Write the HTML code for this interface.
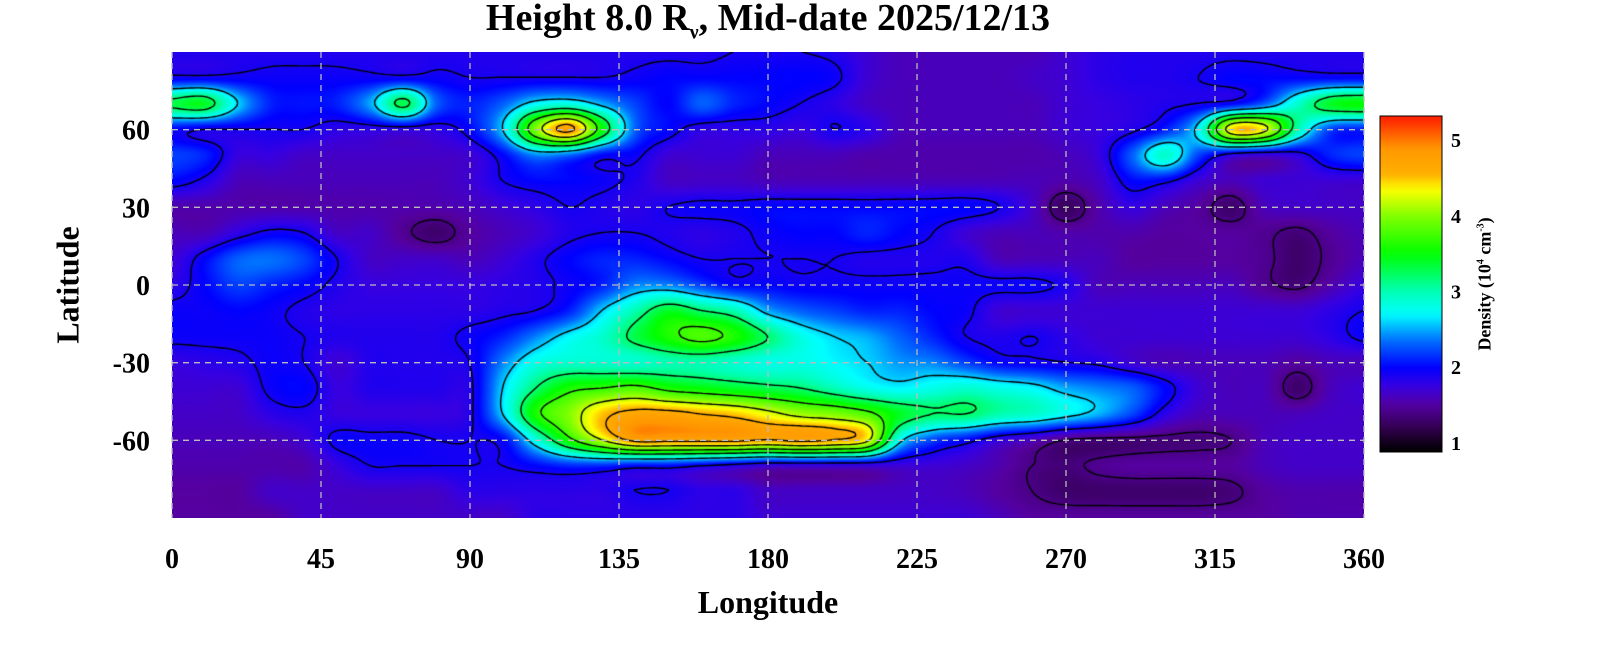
<!DOCTYPE html>
<html><head><meta charset="utf-8"><style>
body{margin:0;background:#fff;width:1600px;height:660px;overflow:hidden;position:relative;font-family:"Liberation Serif",serif;font-weight:bold}
.t{position:absolute;white-space:nowrap}
</style></head><body>
<div class="t" style="left:0;width:1536px;text-align:center;top:-4px;font-size:38px">Height 8.0 R<sub style="font-size:20px">ν</sub>, Mid-date 2025/12/13</div>
<canvas id="hm" width="1192" height="466" style="position:absolute;left:172px;top:52px"></canvas>
<svg id="ov" width="1600" height="660" style="position:absolute;left:0;top:0"></svg>
<div class="t" style="left:0;width:1536px;text-align:center;top:584px;font-size:32px">Longitude</div>
<div class="t" style="left:68px;top:285px;font-size:32px;transform:translate(-50%,-50%) rotate(-90deg)">Latitude</div>
<div class="t" style="left:1485px;top:284px;font-size:18px;transform:translate(-50%,-50%) rotate(-90deg)">Density (10<sup style="font-size:10px">4</sup> cm<sup style="font-size:10px">-3</sup>)</div>
<script>
const lons=[0,10,20,30,40,50,60,70,80,90,100,110,120,130,140,150,160,170,180,190,200,210,220,230,240,250,260,270,280,290,300,310,320,330,340,350,360];
const lats=[90,80,70,60,50,40,30,20,10,0,-10,-20,-30,-40,-50,-60,-70,-80,-90];
const r90=[1.85,1.85,1.85,1.85,1.85,1.85,1.85,1.85,1.85,1.85,1.85,1.85,1.85,1.85,1.85,1.85,1.85,1.9,1.9,1.9,1.85,1.7,1.6,1.6,1.6,1.6,1.6,1.7,1.8,1.85,1.85,1.85,1.85,1.85,1.85,1.85,1.85];
const r80=[1.95,1.95,1.95,1.95,1.95,1.95,1.95,1.95,1.95,1.9,1.9,1.9,1.9,1.9,1.95,2.0,2.0,2.0,2.0,2.0,1.95,1.7,1.6,1.6,1.6,1.6,1.65,1.7,1.8,1.85,1.85,1.9,2.0,2.0,2.0,2.0,2.0];
const r70=[3.3,3.4,2.6,2.1,2.05,2.1,2.5,3.3,2.3,2.1,2.3,2.7,2.8,2.5,2.2,2.0,2.3,2.1,2.0,1.9,1.8,1.65,1.6,1.6,1.6,1.6,1.6,1.7,1.75,1.8,1.85,1.9,2.0,2.3,2.9,3.4,3.5];
const r60=[2.0,1.9,1.9,1.9,1.9,1.8,1.8,1.8,1.8,2.0,2.6,4.0,4.7,3.5,2.3,2.0,1.8,1.8,1.8,1.75,1.9,1.8,1.6,1.6,1.6,1.6,1.6,1.7,1.75,1.85,2.1,2.7,4.4,4.3,3.0,2.2,2.1];
const r50=[2.2,2.1,1.75,1.75,1.65,1.65,1.65,1.65,1.65,1.7,2.0,2.4,2.3,2.0,1.95,1.7,1.7,1.7,1.6,1.6,1.6,1.55,1.55,1.55,1.55,1.55,1.55,1.6,1.75,2.3,2.9,2.2,1.8,1.7,1.8,2.1,2.2];
const r40=[2.0,1.85,1.6,1.6,1.6,1.6,1.6,1.6,1.6,1.7,1.9,2.0,2.0,1.95,1.85,1.65,1.65,1.65,1.6,1.6,1.6,1.6,1.6,1.6,1.6,1.6,1.6,1.55,1.65,2.0,1.95,1.7,1.6,1.7,1.7,1.7,1.7];
const r30=[1.55,1.55,1.55,1.55,1.55,1.55,1.55,1.55,1.55,1.6,1.7,1.8,1.9,1.85,1.8,1.9,1.95,1.95,2.0,2.0,2.0,2.0,2.0,2.0,2.0,1.9,1.65,1.25,1.55,1.75,1.6,1.5,1.3,1.6,1.65,1.65,1.65];
const r20=[1.6,1.6,1.8,1.95,1.9,1.65,1.65,1.45,1.3,1.5,1.6,1.7,1.85,1.9,1.9,1.85,1.8,1.85,1.95,2.0,2.0,2.1,2.0,1.9,1.7,1.6,1.6,1.55,1.55,1.55,1.5,1.5,1.5,1.45,1.35,1.5,1.6];
const r10=[1.7,2.0,2.3,2.35,2.2,1.9,1.65,1.65,1.65,1.6,1.7,1.85,2.0,2.1,2.1,2.0,1.9,1.9,1.9,1.9,1.9,1.85,1.85,1.85,1.85,1.6,1.6,1.6,1.6,1.5,1.5,1.5,1.5,1.45,1.3,1.45,1.6];
const r0=[1.8,2.0,2.2,2.1,2.0,1.85,1.75,1.75,1.75,1.75,1.8,1.85,1.95,2.1,2.4,2.4,2.2,2.0,2.0,1.95,1.95,1.95,1.95,1.95,1.95,1.95,1.95,1.85,1.6,1.6,1.6,1.6,1.6,1.45,1.35,1.55,1.75];
const rm10=[1.95,1.95,2.0,1.95,1.85,1.8,1.8,1.8,1.8,1.8,1.85,1.9,2.1,2.6,3.0,3.4,3.2,3.0,2.5,2.3,2.2,2.1,2.1,2.0,1.95,1.7,1.7,1.7,1.7,1.7,1.7,1.7,1.7,1.7,1.7,1.8,1.9];
const rm20=[1.95,1.95,1.95,1.95,1.9,1.85,1.85,1.85,1.85,1.95,2.1,2.4,2.7,2.9,3.3,3.6,3.8,3.6,3.2,2.8,2.6,2.5,2.3,2.1,1.9,1.85,1.9,1.8,1.7,1.7,1.7,1.7,1.7,1.7,1.7,1.8,1.95];
const rm30=[1.75,1.8,1.85,1.95,1.9,1.7,1.85,1.85,1.85,1.9,2.4,2.8,2.9,2.9,2.9,3.0,3.0,2.9,2.8,2.8,2.7,2.6,2.45,2.4,2.2,2.0,1.95,1.9,1.85,1.7,1.6,1.6,1.6,1.6,1.5,1.6,1.6];
const rm40=[1.7,1.7,1.7,1.95,2.0,1.75,1.85,1.85,1.85,1.85,2.6,3.2,3.6,3.7,3.8,3.6,3.5,3.4,3.3,3.2,3.0,2.8,2.7,2.8,2.9,2.8,2.7,2.5,2.4,2.3,2.0,1.7,1.6,1.6,1.3,1.6,1.7];
const rm50=[1.65,1.65,1.65,1.8,1.85,1.75,1.75,1.75,1.75,1.85,2.6,3.6,4.0,4.5,4.7,4.7,4.6,4.5,4.3,4.1,4.0,3.8,3.4,3.2,3.2,3.0,2.9,2.7,2.5,2.2,1.8,1.6,1.6,1.6,1.6,1.65,1.65];
const rm60=[1.6,1.6,1.6,1.6,1.7,1.95,1.95,1.95,1.9,1.9,2.0,2.8,3.6,4.2,4.7,4.7,4.7,4.7,4.6,4.7,4.6,4.3,2.7,2.2,2.0,1.75,1.6,1.4,1.35,1.35,1.35,1.35,1.4,1.6,1.65,1.65,1.65];
const rm70=[1.55,1.55,1.55,1.55,1.55,1.75,1.9,1.9,1.9,1.9,1.9,2.0,2.1,2.1,2.0,2.0,1.9,1.8,1.7,1.7,1.7,1.7,1.7,1.7,1.65,1.55,1.4,1.35,1.45,1.5,1.5,1.5,1.5,1.6,1.65,1.65,1.65];
const rm80=[1.5,1.5,1.5,1.65,1.65,1.65,1.65,1.65,1.65,1.8,1.8,1.8,1.8,1.8,1.9,1.9,1.8,1.8,1.65,1.65,1.65,1.65,1.65,1.65,1.6,1.5,1.4,1.3,1.3,1.3,1.3,1.3,1.35,1.5,1.55,1.55,1.55];
const rm90=[1.5,1.5,1.5,1.5,1.65,1.65,1.65,1.65,1.65,1.65,1.65,1.8,1.8,1.8,1.8,1.8,1.8,1.8,1.7,1.7,1.7,1.7,1.7,1.7,1.7,1.6,1.5,1.5,1.5,1.5,1.5,1.5,1.5,1.5,1.55,1.55,1.55];
const density=[r90,r80,r70,r60,r50,r40,r30,r20,r10,r0,rm10,rm20,rm30,rm40,rm50,rm60,rm70,rm80,rm90];
const contourLevels=[1.4,1.9,2.6,3.2,3.7,4.2,4.6];
const xTicks=[0,45,90,135,180,225,270,315,360];
const yTicks=[60,30,0,-30,-60];
const cbTicks=[1,2,3,4,5];

const PX=172,PY=52,PW=1192,PH=466;
const xs=lon=>PX+lon/360*PW;
const ys=lat=>PY+(90-lat)/180*PH;
const CB={x:1380,y:116,w:62,h:336,min:0.88,max:5.32};
const cbY=v=>CB.y+CB.h*(CB.max-v)/(CB.max-CB.min);

const stops=[[0.9,0,0,0],[1.2,50,0,80],[1.5,85,0,160],[1.75,55,0,225],[2.0,0,0,255],[2.35,0,110,255],[2.7,0,255,255],[3.0,0,255,180],[3.5,0,255,0],[4.0,130,255,0],[4.35,255,255,0],[4.55,255,175,0],[4.9,255,150,0],[5.3,255,30,0]];
function cmap(v){
  if(v<=stops[0][0])return stops[0].slice(1);
  for(let i=1;i<stops.length;i++){if(v<=stops[i][0]){const a=stops[i-1],b=stops[i],t=(v-a[0])/(b[0]-a[0]);return [a[1]+(b[1]-a[1])*t,a[2]+(b[2]-a[2])*t,a[3]+(b[3]-a[3])*t];}}
  return stops[stops.length-1].slice(1);
}
function cr(p0,p1,p2,p3,t){return 0.5*((2*p1)+(-p0+p2)*t+(2*p0-5*p1+4*p2-p3)*t*t+(-p0+3*p1-3*p2+p3)*t*t*t);}
const NR=lats.length,NC=lons.length;
function g(r,c){r=Math.max(0,Math.min(NR-1,r));c=Math.max(0,Math.min(NC-1,c));return density[r][c];}
function field(lon,lat){
  const fc=(lon-lons[0])/(lons[1]-lons[0]),fr=(lats[0]-lat)/(lats[0]-lats[1]);
  const c=Math.floor(fc),r=Math.floor(fr),tc=fc-c,tr=fr-r;
  const row=[];for(let k=-1;k<3;k++)row.push(cr(g(r+k,c-1),g(r+k,c),g(r+k,c+1),g(r+k,c+2),tc));
  return cr(row[0],row[1],row[2],row[3],tr);
}
const cv=document.getElementById('hm'),ctx=cv.getContext('2d');
const img=ctx.createImageData(PW,PH);
const F=[];
for(let y=0;y<PH;y++){const lat=90-(y+0.5)/PH*180;const fr=[];for(let x=0;x<PW;x++){const v=field((x+0.5)/PW*360,lat);fr.push(v);const c=cmap(v),i=(y*PW+x)*4;img.data[i]=c[0];img.data[i+1]=c[1];img.data[i+2]=c[2];img.data[i+3]=255;}F.push(fr);}
ctx.putImageData(img,0,0);
ctx.strokeStyle='#000';ctx.lineWidth=1.4;
const S=3;
for(const L of contourLevels){
  ctx.beginPath();
  for(let y=0;y+S<PH;y+=S)for(let x=0;x+S<PW;x+=S){
    const a=F[y][x],b=F[y][x+S],c=F[y+S][x+S],d=F[y+S][x];
    const pts=[];
    const e=(v1,v2,x1,y1,x2,y2)=>{if((v1<L)!==(v2<L)){const t=(L-v1)/(v2-v1);pts.push([x1+(x2-x1)*t,y1+(y2-y1)*t]);}};
    e(a,b,x,y,x+S,y);e(b,c,x+S,y,x+S,y+S);e(d,c,x,y+S,x+S,y+S);e(a,d,x,y,x,y+S);
    if(pts.length>=2){ctx.moveTo(pts[0][0],pts[0][1]);ctx.lineTo(pts[1][0],pts[1][1]);}
    if(pts.length===4){ctx.moveTo(pts[2][0],pts[2][1]);ctx.lineTo(pts[3][0],pts[3][1]);}
  }
  ctx.stroke();
}
const NS='http://www.w3.org/2000/svg',ov=document.getElementById('ov');
function mk(tag,at,txt){const e=document.createElementNS(NS,tag);for(const k in at)e.setAttribute(k,at[k]);if(txt!==undefined)e.textContent=txt;ov.appendChild(e);return e;}
for(const t of xTicks){
  const l=mk('line',{x1:xs(t),x2:xs(t),y1:PY,y2:PY+PH,stroke:'#bbb','stroke-width':1.3,'stroke-dasharray':'6,5'});
  
  
  const tx=mk('text',{x:xs(t),y:568,'text-anchor':'middle','font-size':28,'font-family':'Liberation Serif, serif','font-weight':'bold'},t);
  
  
}
for(const t of yTicks){
  const l=mk('line',{x1:PX,x2:PX+PW,y1:ys(t),y2:ys(t),stroke:'#bbb','stroke-width':1.3,'stroke-dasharray':'6,5'});
  
  
  const tx=mk('text',{x:150,y:ys(t)+10,'text-anchor':'end','font-size':28,'font-family':'Liberation Serif, serif','font-weight':'bold'},t);
  
  
}
const defs=mk('defs',{});
const gr=document.createElementNS(NS,'linearGradient');gr.setAttribute('id','cbg');gr.setAttribute('x1','0');gr.setAttribute('y1','1');gr.setAttribute('x2','0');gr.setAttribute('y2','0');defs.appendChild(gr);
for(let i=0;i<=40;i++){const v=CB.min+(CB.max-CB.min)*i/40,c=cmap(v);const s=document.createElementNS(NS,'stop');s.setAttribute('offset',i/40);s.setAttribute('stop-color',`rgb(${c.map(Math.round).join(',')})`);gr.appendChild(s);}
const cb=mk('rect',{x:CB.x,y:CB.y,width:CB.w,height:CB.h,fill:'url(#cbg)',stroke:'#000','stroke-width':1});


for(const t of cbTicks){
  const tx=mk('text',{x:1451,y:cbY(t)+7,'font-size':20,'font-family':'Liberation Serif, serif','font-weight':'bold'},t);
  
  
}
</script>
</body></html>
